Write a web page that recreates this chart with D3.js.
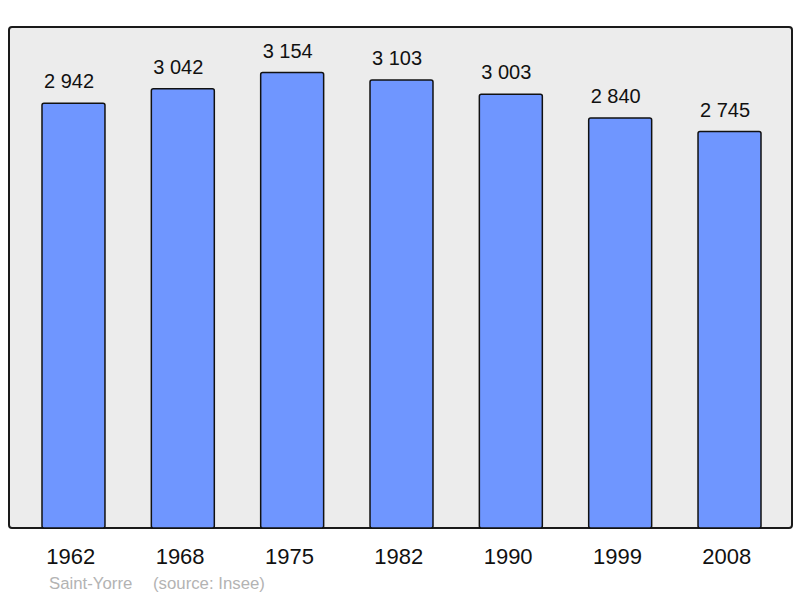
<!DOCTYPE html>
<html><head><meta charset="utf-8">
<script src="https://cdn.jsdelivr.net/npm/d3@7"></script>
<style>body{margin:0;background:#fff}svg{display:block}text{font-family:"Liberation Sans",Arial,sans-serif}</style>
</head><body><svg id="c" width="800" height="598"></svg>
<script>
const years = ["1962","1968","1975","1982","1990","1999","2008"];
const population = [2942,3042,3154,3103,3003,2840,2745];
const valueLabels = ["2 942","3 042","3 154","3 103","3 003","2 840","2 745"];
const town = "Saint-Yorre";
const source = "(source: Insee)";

(function(){
const svg = d3.select("#c");
const pL = 9, pR = 792, pT = 27, pB = 528;
svg.append("rect").attr("x", pL).attr("y", pT).attr("width", pR-pL).attr("height", pB-pT)
  .attr("rx", 3).attr("fill", "#ececec").attr("stroke", "#1a1a1a").attr("stroke-width", 2);

const x = d3.scaleBand().domain(years).range([20.13, 782.87]).paddingInner(0.424).paddingOuter(0.2);
const y = d3.scaleLinear().domain([0, 3154*1.1]).range([pB, pT]);

svg.selectAll("rect.bar").data(population).join("rect").attr("class","bar")
  .attr("x", (d,i) => x(years[i])).attr("width", x.bandwidth())
  .attr("y", d => y(d)).attr("height", d => pB - y(d))
  .attr("rx", 2).attr("fill", "#6f96ff").attr("stroke", "#111").attr("stroke-width", 1.5);

svg.selectAll("text.v").data(population).join("text").attr("class","v")
  .attr("x", (d,i) => x(years[i]) + x.bandwidth()/2 - 4.5).attr("y", d => y(d) - 15)
  .attr("text-anchor","middle").attr("font-size", 20).attr("fill","#111")
  .text((d,i) => valueLabels[i]);

svg.selectAll("text.yr").data(years).join("text").attr("class","yr")
  .attr("x", d => x(d) + x.bandwidth()/2 - 2.7).attr("y", 564)
  .attr("text-anchor","middle").attr("font-size", 22).attr("fill","#111").text(d => d);

svg.append("text").attr("x", 49).attr("y", 589).attr("font-size", 16.8).attr("fill","#b3b3b3").text(town);
svg.append("text").attr("x", 153).attr("y", 589).attr("font-size", 16.8).attr("fill","#b3b3b3").text(source);
})();
</script></body></html>
